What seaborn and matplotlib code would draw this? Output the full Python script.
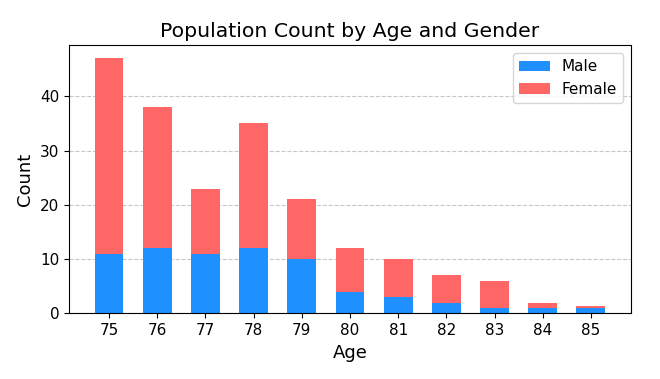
import matplotlib
matplotlib.use("Agg")
import matplotlib.pyplot as plt
import seaborn as sns
import pandas as pd

ages = [75, 76, 77, 78, 79, 80, 81, 82, 83, 84, 85]
male = [11, 12, 11, 12, 10, 4, 3, 2, 1, 1, 1]
female = [36, 26, 12, 23, 11, 8, 7, 5, 5, 1, 0.3]

df = pd.DataFrame({"Age": ages, "Male": male, "Female": female})

plt.rcParams["font.family"] = ["DejaVu Sans"]

fig, ax = plt.subplots(figsize=(6.6, 3.79), dpi=100)
fig.subplots_adjust(left=0.1045, right=0.956, top=0.880, bottom=0.173)

sns.barplot(data=df, x="Age", y="Male", color="#1E90FF", width=0.6,
            saturation=1, errorbar=None, label="Male", linewidth=0, ax=ax)
sns.barplot(data=df, x="Age", y="Female", color="#FF6666", width=0.6,
            saturation=1, errorbar=None, label="Female", linewidth=0,
            bottom=df["Male"].values, ax=ax)

ax.set_xlim(-0.83, 10.83)
ax.set_ylim(0, 49.35)
ax.set_title("Population Count by Age and Gender", fontsize=14.7, color="black")
ax.set_xlabel("Age", fontsize=13, color="black")
ax.set_ylabel("Count", fontsize=13, color="black")
ax.tick_params(labelsize=11, colors="black")
ax.grid(axis="y", linestyle="--", alpha=0.7)
ax.set_axisbelow(True)
for s in ax.spines.values():
    s.set_visible(True)
    s.set_color("black")
ax.legend(loc="upper right", fontsize=11)

fig.savefig("out.png", dpi=100)
